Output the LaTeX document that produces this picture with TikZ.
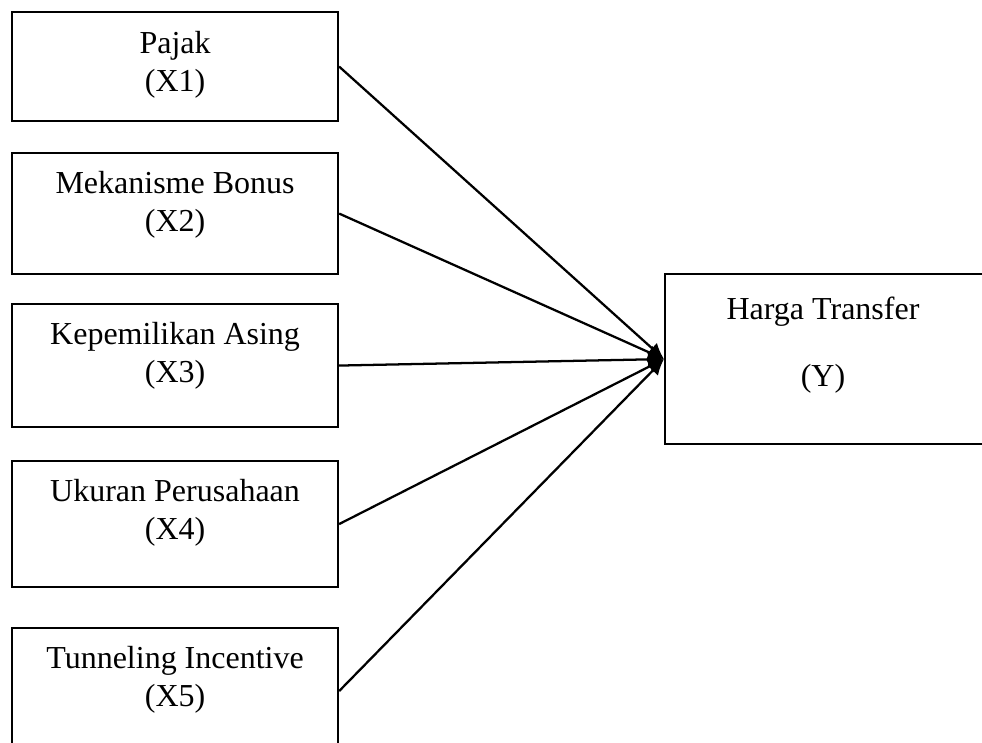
\documentclass[tikz,border=0pt]{standalone}
\usepackage{fontspec}
\setmainfont{Liberation Serif}
\usetikzlibrary{arrows.meta}

\tikzset{
  varbox/.style={draw, line width=0.8pt, anchor=north west, minimum width=326*0.375pt, inner sep=0pt},
  vartext/.style={anchor=north, inner sep=0pt, align=center, font=\fontsize{12}{14.2}\selectfont},
  link/.style={line width=0.85pt, -{Latex[length=6pt,width=5.5pt]}}
}

\begin{document}
\begin{tikzpicture}[x=0.375pt,y=-0.375pt]
\useasboundingbox (0,0) rectangle (982,743);
% independent variables
\node[varbox, minimum height=109*0.375pt] (x1) at (11,11) {};
\node[varbox, minimum height=121*0.375pt] (x2) at (11,152) {};
\node[varbox, minimum height=123*0.375pt] (x3) at (11,303) {};
\node[varbox, minimum height=126*0.375pt] (x4) at (11,460) {};
\node[varbox, minimum height=126*0.375pt] (x5) at (11,627) {};
\node[vartext] (t1) at ([yshift=-7.5pt]x1.north) {Pajak\\(X1)};
\node[vartext] (t2) at ([yshift=-7pt]x2.north) {Mekanisme Bonus\\(X2)};
\node[vartext] (t3) at ([yshift=-7pt]x3.north) {Kepemilikan Asing\\(X3)};
\node[vartext] (t4) at ([yshift=-7pt]x4.north) {Ukuran Perusahaan\\(X4)};
\node[vartext] (t5) at ([yshift=-7pt]x5.north) {Tunneling Incentive\\(X5)};
% dependent variable
\node[varbox, minimum width=340*0.375pt, minimum height=170*0.375pt] (y) at (664,273) {};
\node[vartext] (ty) at (823,296) {Harga Transfer\\[11pt](Y)};
\foreach \i in {1,...,5} % arrows
\draw[link] (x\i.east) -- (y.west);
\end{tikzpicture}
\end{document}
